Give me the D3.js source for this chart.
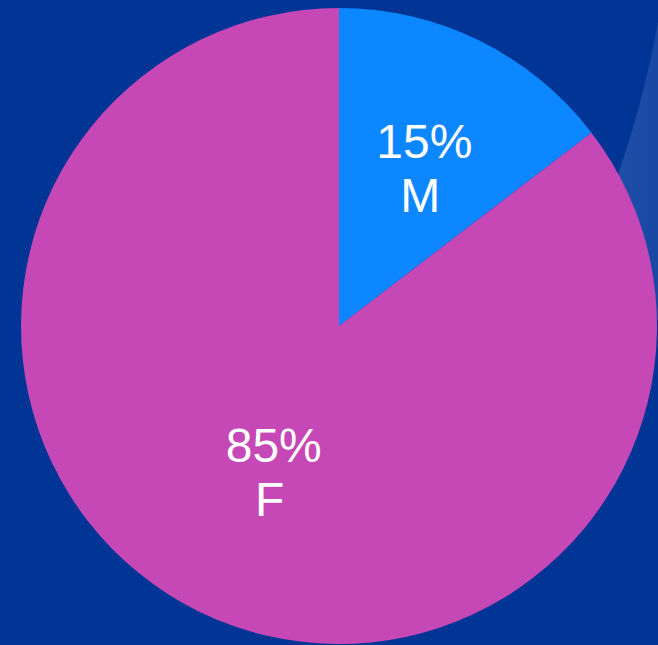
<!DOCTYPE html>
<meta charset="utf-8">
<style>
body { margin: 0; background: #003595; }
.label { fill: #fff; font-family: "Liberation Sans", Arial, sans-serif; font-size: 48px; }
</style>
<body>
<script src="https://cdn.jsdelivr.net/npm/d3@7"></script>
<script>

// chart data
var categories = ["M", "F"];
var values = [14.6, 85.4];
var pctLabels = ["15%", "85%"];
var colors = ["#0d87ff", "#c647b6"];

var width = 658, height = 645;
var cx = 339, cy = 326, radius = 318;

var svg = d3.select("body").append("svg")
    .attr("width", width)
    .attr("height", height);

// background with the lighter swoosh on the right
var defs = svg.append("defs");
var grad = defs.append("linearGradient")
    .attr("id", "swoosh")
    .attr("x1", "0").attr("y1", "0").attr("x2", "1").attr("y2", "0");
grad.append("stop").attr("offset", "0").attr("stop-color", "#2a58ad");
grad.append("stop").attr("offset", "0.4").attr("stop-color", "#1f4ea8");
grad.append("stop").attr("offset", "1").attr("stop-color", "#1848a4");

svg.append("rect")
    .attr("width", width).attr("height", height)
    .attr("fill", "#003595");

svg.append("path")
    .attr("d", "M658,22 Q645,95 618,175 L600,320 L658,320 Z")
    .attr("fill", "url(#swoosh)");

var data = categories.map(function(c, i) {
  return {cat: c, value: values[i], pct: pctLabels[i], color: colors[i]};
});

var pie = d3.pie().sort(null).value(function(d) { return d.value; });
var arc = d3.arc().innerRadius(0).outerRadius(radius);
var labelArc = d3.arc().innerRadius(170).outerRadius(170);

var g = svg.append("g")
    .attr("transform", "translate(" + cx + "," + cy + ")");

g.selectAll(".slice")
    .data(pie(data))
  .enter().append("path")
    .attr("class", "slice")
    .attr("d", arc)
    .attr("fill", function(d) { return d.data.color; });

var labels = g.selectAll(".label")
    .data(pie(data))
  .enter().append("text")
    .attr("class", "label")
    .attr("text-anchor", "middle")
    .attr("transform", function(d) {
      var c = labelArc.centroid(d);
      return "translate(" + (c[0] + 10) + "," + (c[1] - 6) + ")";
    });

labels.append("tspan")
    .attr("x", 0).attr("y", -10)
    .text(function(d) { return d.data.pct; });
labels.append("tspan")
    .attr("x", -4).attr("y", 44)
    .text(function(d) { return d.data.cat; });

</script>
</body>
